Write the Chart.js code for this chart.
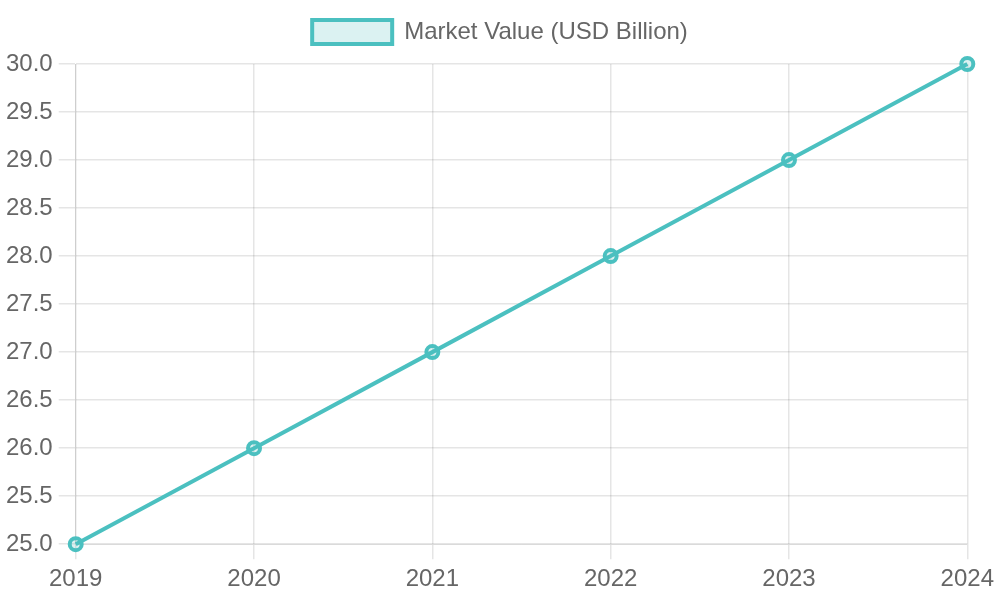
<!DOCTYPE html>
<html>
<head>
    <meta charset="utf-8" />
    <title>Market Value</title>
    <style>
        body { margin: 0; background: #fff; }
        .chart-container { width: 1000px; height: 600px; }
    </style>
    <script src="https://cdn.jsdelivr.net/npm/chart.js"></script>
</head>
<body>
    <div class="chart-container">
        <canvas id="chartMarket"></canvas>
    </div>
    <script>
        const years = ['2019', '2020', '2021', '2022', '2023', '2024'];
        const marketValue = [25, 26, 27, 28, 29, 30];

        Chart.defaults.font.family = "'Liberation Sans', Arial, sans-serif";
        Chart.defaults.font.size = 24;
        Chart.defaults.color = '#666';

        // a bit more room under the legend
        const legendGap = {
            id: 'legendGap',
            beforeInit(chart) {
                const origFit = chart.legend.fit;
                chart.legend.fit = function () {
                    origFit.bind(chart.legend)();
                    this.height += 10;
                };
            }
        };

        const ctx = document.getElementById('chartMarket').getContext('2d');
        new Chart(ctx, {
            type: 'line',
            data: {
                labels: years,
                datasets: [{
                    label: 'Market Value (USD Billion)',
                    data: marketValue,
                    borderColor: 'rgb(75, 192, 192)',
                    backgroundColor: 'rgba(75, 192, 192, 0.2)',
                    borderWidth: 4,
                    pointRadius: 6,
                    pointBorderWidth: 4,
                    tension: 0,
                    clip: false
                }]
            },
            options: {
                responsive: true,
                maintainAspectRatio: false,
                animation: false,
                scales: {
                    x: {
                        grid: { tickLength: 15, lineWidth: 1.5 },
                        ticks: { padding: 6 }
                    },
                    y: {
                        min: 25,
                        max: 30,
                        grid: { tickLength: 17, lineWidth: 1.5 },
                        ticks: { stepSize: 0.5, padding: 6, callback: v => v.toFixed(1) }
                    }
                },
                plugins: {
                    legend: {
                        labels: { boxWidth: 80, boxHeight: 24, padding: 20 }
                    }
                }
            },
            plugins: [legendGap]
        });
    </script>
</body>
</html>
